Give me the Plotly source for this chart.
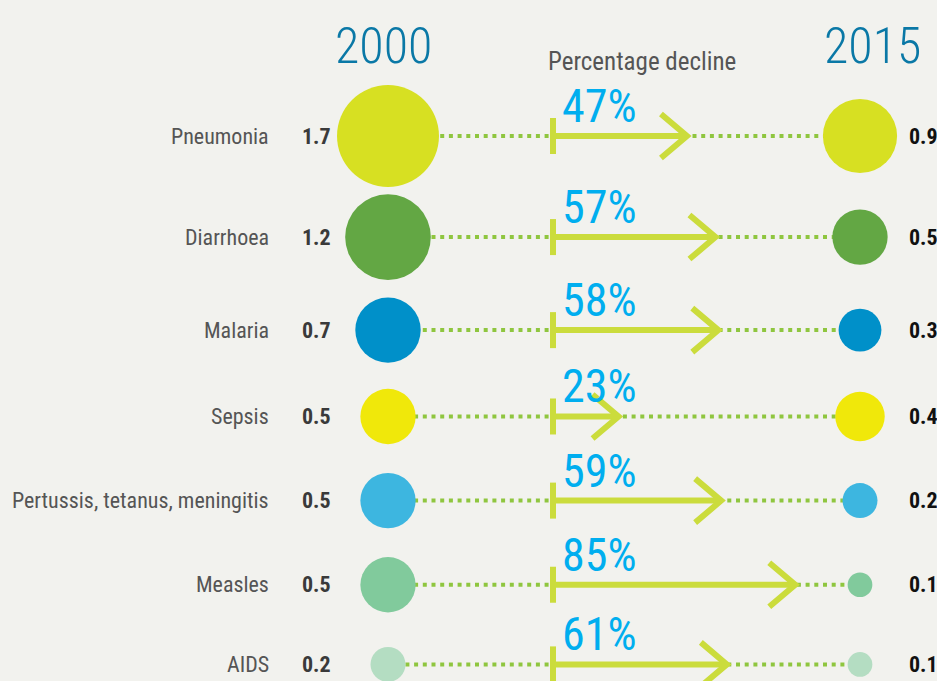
import numpy as np
import plotly.graph_objects as go

# ---------------- data ----------------
causes = ["Pneumonia", "Diarrhoea", "Malaria", "Sepsis",
          "Pertussis, tetanus, meningitis", "Measles", "AIDS"]
deaths_2000 = [1.7, 1.2, 0.7, 0.5, 0.5, 0.5, 0.2]
deaths_2015 = [0.9, 0.5, 0.3, 0.4, 0.2, 0.1, 0.1]
pct_decline = [47, 57, 58, 23, 59, 85, 61]
year_labels = ["2000", "2015"]
subtitle = "Percentage decline"

# ---------------- style ----------------
cause_colors = ["#d7e022", "#63a744", "#0090c9", "#f0e80a",
                "#3db6e0", "#81ca9c", "#b4ddc2"]
BG = "#f2f2ee"
ARROW_COLOR = "#cbdc3c"
DOT_COLOR = "#8fc63f"
YEAR_COLOR = "#0a78a6"
PCT_COLOR = "#00aeef"
NAME_COLOR = "#555555"
FONT = "Roboto Condensed, DejaVu Sans Condensed, sans-serif"

W, H = 937, 681
ORIGIN_PX = 553          # pixel where the arrows start (0 %)
PX_PER_PCT = 2.85        # arrow length scale
BUBBLE_K = 78.2          # bubble diameter (px) per sqrt(million deaths)
FIRST_ROW = 136
ROW_GAP_SCALE = 0.44
ROW_PAD = 59.8


def px_to_x(px):
    return (px - ORIGIN_PX) / PX_PER_PCT


def ux(px_len):
    return px_len / PX_PER_PCT


X_LEFT = px_to_x(388)
X_RIGHT = px_to_x(860)

# rows spaced according to bubble sizes
radii = [0.5 * BUBBLE_K * np.sqrt(v) for v in deaths_2000]
rows = [FIRST_ROW]
for i in range(1, len(causes)):
    rows.append(rows[-1] + ROW_GAP_SCALE * (radii[i - 1] + radii[i]) + ROW_PAD)

fig = go.Figure()

# dotted connectors
dx, dy = [], []
for r in rows:
    dx += [X_LEFT, X_RIGHT, None]
    dy += [r, r, None]
fig.add_trace(go.Scatter(x=dx, y=dy, mode="lines",
                         line=dict(color=DOT_COLOR, width=4, dash="4px,4.7px"),
                         hoverinfo="skip", showlegend=False))

# bubbles
sizeref = 2.0 / BUBBLE_K ** 2
for xpos, vals in [(X_LEFT, deaths_2000), (X_RIGHT, deaths_2015)]:
    fig.add_trace(go.Scatter(
        x=[xpos] * len(vals), y=rows, mode="markers",
        marker=dict(size=vals, sizemode="area", sizeref=sizeref,
                    color=cause_colors, line=dict(width=0), opacity=1),
        showlegend=False, hoverinfo="skip"))

# arrows
ARM_DX, ARM_DY, TICK_H = ux(26), 22, 18
ax, ay = [], []
for r, p in zip(rows, pct_decline):
    ax += [0, 0, None, 0, p, None, p - ARM_DX, p, p - ARM_DX, None]
    ay += [r - TICK_H, r + TICK_H, None, r, r, None, r - ARM_DY, r, r + ARM_DY, None]
fig.add_trace(go.Scatter(x=ax, y=ay, mode="lines",
                         line=dict(color=ARROW_COLOR, width=6),
                         hoverinfo="skip", showlegend=False))

ann = []
for r, name, v0, v1, p in zip(rows, causes, deaths_2000, deaths_2015, pct_decline):
    ann.append(dict(x=px_to_x(271), y=r, xanchor="right", yanchor="middle",
                    text=name, showarrow=False,
                    font=dict(family=FONT, size=22, color=NAME_COLOR)))
    ann.append(dict(x=px_to_x(333), y=r, xanchor="right", yanchor="middle",
                    text=f"<b>{v0}</b>", showarrow=False,
                    font=dict(family=FONT, size=22, color="#3a3a3a")))
    ann.append(dict(x=px_to_x(907), y=r, xanchor="left", yanchor="middle",
                    text=f"<b>{v1}</b>", showarrow=False,
                    font=dict(family=FONT, size=22, color="#111111")))
    ann.append(dict(x=px_to_x(560), y=r - 1, xanchor="left", yanchor="bottom",
                    text=f"{p}%", showarrow=False,
                    font=dict(family=FONT, size=46, color=PCT_COLOR)))

for xp, lab in zip([px_to_x(383), px_to_x(872)], year_labels):
    ann.append(dict(x=xp, y=46, xanchor="center", yanchor="middle",
                    text=lab, showarrow=False,
                    font=dict(family=FONT, size=50, color=YEAR_COLOR, weight=300)))
ann.append(dict(x=px_to_x(642), y=61, xanchor="center", yanchor="middle",
                text=subtitle, showarrow=False,
                font=dict(family=FONT, size=25, color=NAME_COLOR)))

fig.update_layout(
    width=W, height=H,
    margin=dict(l=0, r=0, t=0, b=0),
    paper_bgcolor=BG, plot_bgcolor=BG,
    xaxis=dict(range=[px_to_x(0), px_to_x(W)], visible=False, fixedrange=True),
    yaxis=dict(range=[H, 0], visible=False, fixedrange=True),
    annotations=ann,
    showlegend=False,
)

fig.write_html("out.html", config={"displayModeBar": False},
               post_script="document.body.style.margin='0';")
